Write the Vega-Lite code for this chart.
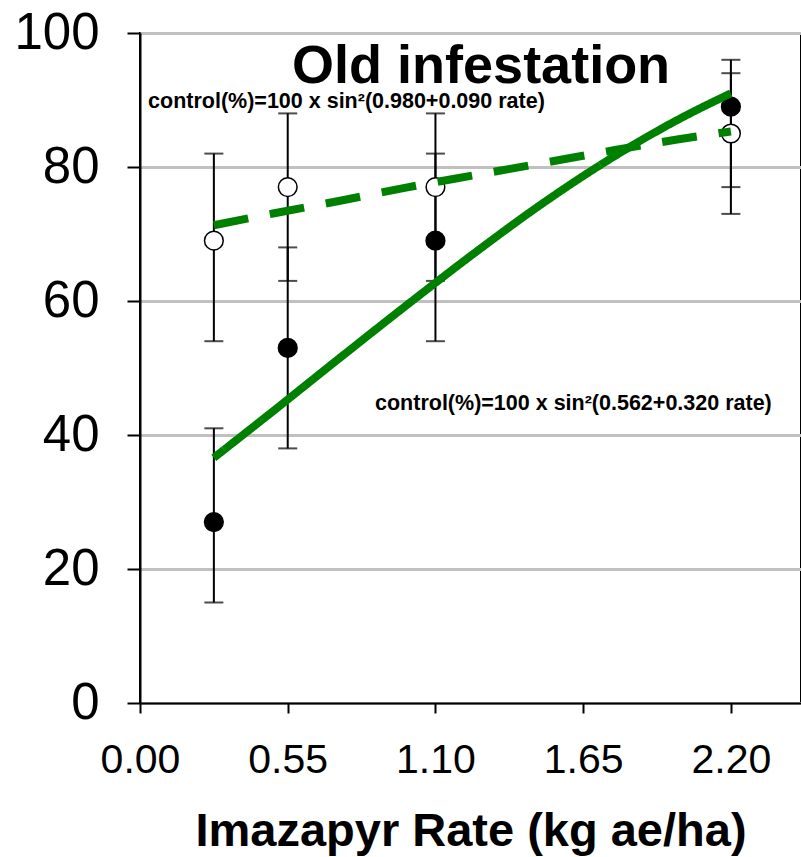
{
  "$schema": "https://vega.github.io/schema/vega-lite/v6.json",
  "width": 661,
  "height": 670,
  "autosize": {"type": "none"},
  "padding": {"left": 140, "top": 33, "right": 0, "bottom": 154},
  "background": "white",
  "config": {
    "font": "Liberation Sans",
    "view": {"stroke": "black", "strokeWidth": 2}
  },
  "datasets": {
    "points": [
      {"rate": 0.275, "type": "filled", "value": 27, "lo": 15, "hi": 41},
      {"rate": 0.275, "type": "open", "value": 69, "lo": 54, "hi": 82},
      {"rate": 0.55, "type": "filled", "value": 53, "lo": 38, "hi": 68},
      {"rate": 0.55, "type": "open", "value": 77, "lo": 63, "hi": 88},
      {"rate": 1.1, "type": "filled", "value": 69, "lo": 54, "hi": 82},
      {"rate": 1.1, "type": "open", "value": 77, "lo": 63, "hi": 88},
      {"rate": 2.2, "type": "filled", "value": 89, "lo": 77, "hi": 94},
      {"rate": 2.2, "type": "open", "value": 85, "lo": 73, "hi": 96}
    ],
    "curves": [
      {"series": "fit1", "rate": 0.275, "control": 36.6},
      {"series": "fit1", "rate": 0.5, "control": 43.7},
      {"series": "fit1", "rate": 0.75, "control": 51.7},
      {"series": "fit1", "rate": 1.0, "control": 59.6},
      {"series": "fit1", "rate": 1.25, "control": 67.3},
      {"series": "fit1", "rate": 1.5, "control": 74.6},
      {"series": "fit1", "rate": 1.75, "control": 81.2},
      {"series": "fit1", "rate": 2.0, "control": 87.0},
      {"series": "fit1", "rate": 2.2, "control": 91.0},
      {"series": "fit2", "rate": 0.275, "control": 71.3},
      {"series": "fit2", "rate": 0.5, "control": 73.1},
      {"series": "fit2", "rate": 0.75, "control": 75.0},
      {"series": "fit2", "rate": 1.0, "control": 77.0},
      {"series": "fit2", "rate": 1.25, "control": 78.8},
      {"series": "fit2", "rate": 1.5, "control": 80.6},
      {"series": "fit2", "rate": 1.75, "control": 82.4},
      {"series": "fit2", "rate": 2.0, "control": 84.1},
      {"series": "fit2", "rate": 2.2, "control": 85.3}
    ]
  },
  "layer": [
    {
      "data": {"name": "points"},
      "mark": {"type": "rule", "color": "black", "strokeWidth": 2},
      "encoding": {
        "x": {
          "field": "rate", "type": "quantitative",
          "scale": {"domain": [0, 2.461], "nice": false, "zero": true},
          "axis": {
            "values": [0, 0.55, 1.1, 1.65, 2.2],
            "format": ".2f",
            "labelFontSize": 41,
            "labelColor": "black",
            "labelBaseline": "alphabetic",
            "labelPadding": 59,
            "labelFlush": false,
            "tickSize": 10,
            "tickColor": "black",
            "tickWidth": 2,
            "domainColor": "black",
            "domainWidth": 2,
            "grid": false,
            "title": "Imazapyr Rate (kg ae/ha)",
            "titleFontSize": 47,
            "titleFontWeight": "bold",
            "titleColor": "black",
            "titleBaseline": "alphabetic",
            "titleY": 142
          }
        },
        "y": {
          "field": "lo", "type": "quantitative",
          "scale": {"domain": [0, 100], "nice": false},
          "axis": {
            "values": [0, 20, 40, 60, 80, 100],
            "labelFontSize": 51,
            "labelColor": "black",
            "labelPadding": 28,
            "tickSize": 13,
            "tickColor": "black",
            "tickWidth": 2,
            "domainColor": "black",
            "domainWidth": 2,
            "grid": true,
            "gridColor": "#c0c0c0",
            "gridWidth": 3,
            "title": null
          }
        },
        "y2": {"field": "hi"}
      }
    },
    {
      "data": {"name": "points"},
      "mark": {"type": "tick", "orient": "horizontal", "color": "black", "size": 19, "thickness": 2},
      "encoding": {
        "x": {"field": "rate", "type": "quantitative"},
        "y": {"field": "lo", "type": "quantitative"}
      }
    },
    {
      "data": {"name": "points"},
      "mark": {"type": "tick", "orient": "horizontal", "color": "black", "size": 19, "thickness": 2},
      "encoding": {
        "x": {"field": "rate", "type": "quantitative"},
        "y": {"field": "hi", "type": "quantitative"}
      }
    },
    {
      "data": {"name": "points"},
      "mark": {"type": "point", "shape": "circle", "size": 350, "filled": true, "stroke": "black", "strokeWidth": 1.5, "opacity": 1},
      "encoding": {
        "x": {"field": "rate", "type": "quantitative"},
        "y": {"field": "value", "type": "quantitative"},
        "fill": {
          "field": "type", "type": "nominal",
          "scale": {"domain": ["filled", "open"], "range": ["black", "white"]},
          "legend": null
        }
      }
    },
    {
      "data": {"name": "curves"},
      "mark": {"type": "line", "color": "#008000", "strokeWidth": 8, "strokeCap": "butt", "interpolate": "monotone"},
      "encoding": {
        "x": {"field": "rate", "type": "quantitative"},
        "y": {"field": "control", "type": "quantitative"},
        "detail": {"field": "series"},
        "strokeDash": {
          "field": "series", "type": "nominal",
          "scale": {"domain": ["fit1", "fit2"], "range": [[1, 0], [35, 22]]},
          "legend": null
        }
      }
    },
    {
      "data": {"values": [{"rate": 1.27, "value": 92.5, "label": "Old infestation"}]},
      "mark": {"type": "text", "fontSize": 54, "fontWeight": "bold", "align": "center", "baseline": "alphabetic", "color": "black"},
      "encoding": {
        "x": {"field": "rate", "type": "quantitative"},
        "y": {"field": "value", "type": "quantitative"},
        "text": {"field": "label"}
      }
    },
    {
      "data": {"values": [
        {"rate": 0.03, "value": 88.8, "label": "control(%)=100 x sin²(0.980+0.090 rate)"},
        {"rate": 0.875, "value": 43.7, "label": "control(%)=100 x sin²(0.562+0.320 rate)"}
      ]},
      "mark": {"type": "text", "fontSize": 21.5, "fontWeight": "bold", "align": "left", "baseline": "alphabetic", "color": "black"},
      "encoding": {
        "x": {"field": "rate", "type": "quantitative"},
        "y": {"field": "value", "type": "quantitative"},
        "text": {"field": "label"}
      }
    }
  ]
}
